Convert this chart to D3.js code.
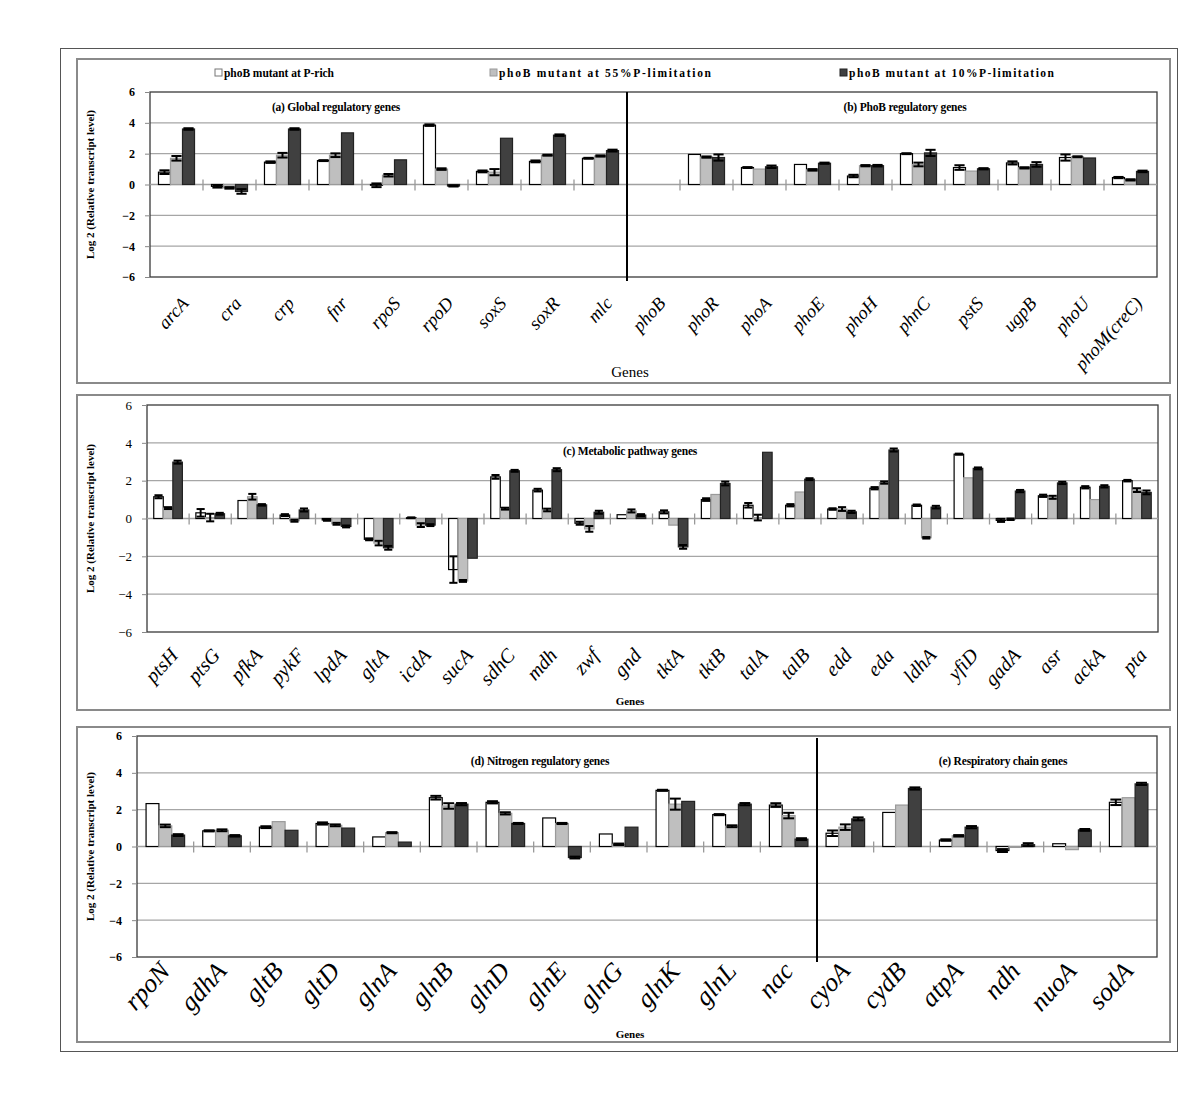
<!DOCTYPE html>
<html><head><meta charset="utf-8">
<script src="https://cdn.jsdelivr.net/npm/d3@7"></script>
<style>
body{margin:0;background:#fff;}
svg{display:block;}
text{font-family:"Liberation Serif","Times New Roman",serif;}
</style></head>
<body>
<svg id="chart" width="1200" height="1105"></svg>
<script>
// ---------------- DATA ----------------
const seriesNames = ["phoB mutant at P-rich","phoB mutant at 55%P-limitation","phoB mutant at 10%P-limitation"];
const yTicks = [-6,-4,-2,0,2,4,6];

// Panel 1: (a) Global regulatory genes | (b) PhoB regulatory genes
const genes1 = ["arcA","cra","crp","fnr","rpoS","rpoD","soxS","soxR","mlc","phoB","phoR","phoA","phoE","phoH","phnC","pstS","ugpB","phoU","phoM(creC)"];
const rich1  = [0.8,-0.12,1.45,1.55,-0.05,3.85,0.85,1.5,1.7,0,1.95,1.1,1.3,0.55,2.0,1.1,1.4,1.75,0.45];
const p55_1  = [1.7,-0.22,1.9,1.9,0.6,1.0,0.8,1.9,1.85,0,1.78,1.0,0.95,1.22,1.3,0.87,1.08,1.8,0.3];
const p10_1  = [3.6,-0.45,3.6,3.35,1.6,-0.1,3.0,3.2,2.2,0,1.75,1.15,1.38,1.22,2.05,1.02,1.3,1.72,0.85];
const eRich1 = [0.12,0.08,0.05,0.03,0.12,0.05,0.06,0.06,0.03,0,0,0.03,0,0.08,0.03,0.15,0.1,0.2,0.04];
const e55_1  = [0.15,0.05,0.15,0.12,0.08,0.05,0.2,0.03,0.04,0,0.04,0,0.05,0.04,0.12,0,0.04,0.03,0.04];
const e10_1  = [0.05,0.15,0.05,0,0,0.03,0,0.05,0.06,0,0.2,0.08,0.04,0.05,0.2,0.04,0.15,0,0.05];

// Panel 2: (c) Metabolic pathway genes
const genes2 = ["ptsH","ptsG","pfkA","pykF","lpdA","gltA","icdA","sucA","sdhC","mdh","zwf","gnd","tktA","tktB","talA","talB","edd","eda","ldhA","yfiD","gadA","asr","ackA","pta"];
const rich2  = [1.15,0.3,0.95,0.18,-0.08,-1.1,0.04,-2.7,2.2,1.5,-0.25,0.2,0.35,1.0,0.7,0.7,0.5,1.6,0.7,3.4,-0.1,1.2,1.65,2.0];
const p55_2  = [0.55,0.05,1.15,-0.12,-0.28,-1.3,-0.35,-3.3,0.52,0.45,-0.55,0.4,-0.35,1.27,0.05,1.4,0.5,1.9,-1.02,2.15,-0.04,1.12,1.0,1.5];
const p10_2  = [2.98,0.25,0.72,0.45,-0.42,-1.55,-0.35,-2.1,2.52,2.58,0.33,0.18,-1.5,1.85,3.5,2.08,0.35,3.62,0.6,2.65,1.45,1.88,1.7,1.38];
const eRich2 = [0.08,0.2,0,0.05,0.04,0.05,0.02,0.7,0.1,0.07,0.08,0,0.08,0.07,0.12,0.06,0.04,0.06,0.04,0.03,0.08,0.06,0.06,0.04];
const e55_2  = [0.05,0.2,0.15,0.05,0.05,0.12,0.1,0.05,0.05,0.07,0.15,0.08,0,0,0.15,0,0.1,0.06,0.04,0,0.04,0.08,0,0.1];
const e10_2  = [0.08,0.05,0.04,0.08,0.05,0.1,0.05,0,0.05,0.08,0.08,0.05,0.1,0.1,0,0.05,0.06,0.08,0.07,0.05,0.06,0.06,0.06,0.1];

// Panel 3: (d) Nitrogen regulatory genes | (e) Respiratory chain genes
const genes3 = ["rpoN","gdhA","gltB","gltD","glnA","glnB","glnD","glnE","glnG","glnK","glnL","nac","cyoA","cydB","atpA","ndh","nuoA","sodA"];
const rich3  = [2.33,0.85,1.05,1.25,0.52,2.65,2.4,1.55,0.68,3.05,1.73,2.25,0.72,1.85,0.35,-0.22,0.15,2.4];
const p55_3  = [1.12,0.88,1.35,1.15,0.75,2.2,1.8,1.25,0.12,2.3,1.1,1.68,1.05,2.25,0.58,-0.05,-0.17,2.65];
const p10_3  = [0.62,0.58,0.88,1.0,0.24,2.3,1.25,-0.6,1.05,2.45,2.3,0.4,1.5,3.15,1.05,0.1,0.9,3.4];
const eRich3 = [0,0.03,0.05,0.06,0,0.1,0.06,0,0,0.03,0.03,0.1,0.15,0,0.04,0.08,0,0.15];
const e55_3  = [0.07,0.05,0,0.05,0.03,0.15,0.06,0.03,0.04,0.3,0.05,0.15,0.15,0,0.04,0,0,0];
const e10_3  = [0.05,0.04,0,0,0,0.06,0.03,0.05,0,0,0.06,0.05,0.08,0.06,0.06,0.08,0.05,0.06];

const titles1 = ["(a) Global regulatory genes","(b) PhoB regulatory genes"];
const titles2 = ["(c) Metabolic pathway genes"];
const titles3 = ["(d) Nitrogen regulatory genes","(e) Respiratory chain genes"];
const yTitle = "Log 2 (Relative transcript level)";
const xTitle = "Genes";

// ---------------- DRAW ----------------
const svg = d3.select("#chart");
const fills = ["#ffffff","#bfbfbf","#404040"];
const strokes = ["#000000","#9a9a9a","#222222"];

// outer frame
svg.append("rect").attr("x",60.5).attr("y",48.5).attr("width",1117).attr("height",1003)
  .attr("fill","none").attr("stroke","#555").attr("stroke-width",1);

function panel(cfg){
  const g = svg.append("g");
  g.append("rect").attr("x",cfg.box[0]).attr("y",cfg.box[1]).attr("width",cfg.box[2]).attr("height",cfg.box[3])
    .attr("fill","none").attr("stroke","#8a8a8a").attr("stroke-width",2);
  const y = d3.scaleLinear().domain([-6,6]).range([cfg.y1,cfg.y0]);
  const x = d3.scaleBand().domain(cfg.genes).range([cfg.x0,cfg.x1]).padding(0);
  const bw = x.bandwidth();
  const groupW = bw*0.68;
  const xs = d3.scaleBand().domain([0,1,2]).range([(bw-groupW)/2,(bw+groupW)/2]).padding(0);

  // gridlines
  g.append("g").selectAll("line").data(yTicks.filter(t=>t!==6 && t!==-6 && t!==0)).join("line")
    .attr("x1",cfg.x0).attr("x2",cfg.x1).attr("y1",d=>y(d)).attr("y2",d=>y(d))
    .attr("stroke","#a6a6a6").attr("stroke-width",1.2);
  // plot border
  g.append("rect").attr("x",cfg.x0).attr("y",cfg.y0).attr("width",cfg.x1-cfg.x0).attr("height",cfg.y1-cfg.y0)
    .attr("fill","none").attr("stroke","#3a3a3a").attr("stroke-width",1.3);

  // y axis
  const ya = g.append("g").attr("transform",`translate(${cfg.x0},0)`)
    .call(d3.axisLeft(y).tickValues(yTicks).tickSize(5).tickPadding(10).tickFormat(d3.format("d")));
  ya.select(".domain").remove();
  ya.selectAll("line").attr("stroke","#888");
  ya.selectAll("text").attr("font-family","Liberation Serif").attr("font-size",cfg.yFont)
    .attr("font-weight",cfg.yBold?"bold":"normal").attr("fill","#000");

  // zero axis + category ticks
  g.append("line").attr("x1",cfg.x0).attr("x2",cfg.x1).attr("y1",y(0)).attr("y2",y(0))
    .attr("stroke","#a0a0a0").attr("stroke-width",1.5);
  g.append("g").selectAll("line").data(cfg.genes.slice(1)).join("line")
    .attr("x1",d=>x(d)).attr("x2",d=>x(d)).attr("y1",y(0)-5).attr("y2",y(0)+6)
    .attr("stroke","#999").attr("stroke-width",1.3);

  // bars
  const vals = [cfg.s0,cfg.s1,cfg.s2];
  const errs = [cfg.e0,cfg.e1,cfg.e2];
  cfg.genes.forEach((gene,i)=>{
    [0,1,2].forEach(s=>{
      const v = vals[s][i];
      if (v===0 && errs[s][i]===0) return;
      const bx = x(gene)+xs(s);
      g.append("rect").attr("x",bx).attr("width",xs.bandwidth())
        .attr("y",Math.min(y(v),y(0))).attr("height",Math.abs(y(v)-y(0)))
        .attr("fill",fills[s]).attr("stroke",strokes[s]).attr("stroke-width",1.2);
    });
  });
  // error bars
  cfg.genes.forEach((gene,i)=>{
    [0,1,2].forEach(s=>{
      const v = vals[s][i], e = errs[s][i];
      if (e===0) return;
      const cx = x(gene)+xs(s)+xs.bandwidth()/2;
      const cw = xs.bandwidth()*0.85;
      const gg = g.append("g").attr("stroke","#000").attr("stroke-width",2);
      gg.append("line").attr("x1",cx).attr("x2",cx).attr("y1",y(v-e)).attr("y2",y(v+e));
      gg.append("line").attr("x1",cx-cw/2).attr("x2",cx+cw/2).attr("y1",y(v-e)).attr("y2",y(v-e));
      gg.append("line").attr("x1",cx-cw/2).attr("x2",cx+cw/2).attr("y1",y(v+e)).attr("y2",y(v+e));
    });
  });

  // divider
  if (cfg.divAfter){
    const dx = x(cfg.genes[cfg.divAfter]);
    g.append("line").attr("x1",dx).attr("x2",dx).attr("y1",cfg.divY[0]).attr("y2",cfg.divY[1])
      .attr("stroke","#000").attr("stroke-width",2);
  }

  // titles
  cfg.titles.forEach((t,k)=>{
    g.append("text").attr("x",cfg.titlePos[k][0]).attr("y",cfg.titlePos[k][1]).attr("text-anchor","middle")
      .attr("font-size",11.5).attr("font-weight","bold").attr("letter-spacing","-0.2").text(t);
  });

  // x labels
  g.append("g").selectAll("text").data(cfg.genes).join("text")
    .attr("transform",d=>`translate(${x(d)+bw/2+cfg.lblDx},${cfg.lblY}) rotate(-48)`)
    .attr("text-anchor","end").attr("font-style","italic").attr("font-size",cfg.lblFont)
    .attr("fill","#000").text(d=>d);

  // axis titles
  g.append("text").attr("transform",`translate(${cfg.yTitleX},${(cfg.y0+cfg.y1)/2}) rotate(-90)`)
    .attr("text-anchor","middle").attr("font-size",11).attr("font-weight","bold").text(yTitle);
  g.append("text").attr("x",630).attr("y",cfg.genesY).attr("text-anchor","middle")
    .attr("font-size",cfg.genesFont).attr("font-weight",cfg.genesBold?"bold":"normal").text(xTitle);
}

panel({genes:genes1,s0:rich1,s1:p55_1,s2:p10_1,e0:eRich1,e1:e55_1,e2:e10_1,
  box:[77,59,1093,324], x0:150,x1:1157,y0:92,y1:277, yFont:12, yBold:true,
  divAfter:9, divY:[92,281], titles:titles1, titlePos:[[336,111],[905,111]],
  lblDx:13, lblY:304, lblFont:18.5, yTitleX:94, genesY:377, genesFont:15, genesBold:false});

panel({genes:genes2,s0:rich2,s1:p55_2,s2:p10_2,e0:eRich2,e1:e55_2,e2:e10_2,
  box:[77,395,1093,315], x0:147,x1:1158,y0:405,y1:632, yFont:13, yBold:false,
  divAfter:0, titles:titles2, titlePos:[[630,455]],
  lblDx:11, lblY:656, lblFont:20, yTitleX:94, genesY:705, genesFont:11, genesBold:true});

panel({genes:genes3,s0:rich3,s1:p55_3,s2:p10_3,e0:eRich3,e1:e55_3,e2:e10_3,
  box:[77,727,1093,315], x0:137,x1:1157,y0:736,y1:957, yFont:12, yBold:true,
  divAfter:12, divY:[738,962], titles:titles3, titlePos:[[540,765],[1003,765]],
  lblDx:6, lblY:972, lblFont:26, yTitleX:94, genesY:1038, genesFont:11, genesBold:true});

// legend
const legX = [215,490,840];
const legW = [110,212,205];
const lg = svg.append("g");
seriesNames.forEach((n,i)=>{
  lg.append("rect").attr("x",legX[i]).attr("y",69).attr("width",7).attr("height",7)
    .attr("fill",fills[i]).attr("stroke",i===0?"#777":strokes[i]).attr("stroke-width",1);
  lg.append("text").attr("x",legX[i]+9).attr("y",77).attr("font-size",11.5).attr("font-weight","bold")
    .attr("textLength",legW[i]).attr("lengthAdjust","spacing").text(n);
});
</script>
</body></html>
